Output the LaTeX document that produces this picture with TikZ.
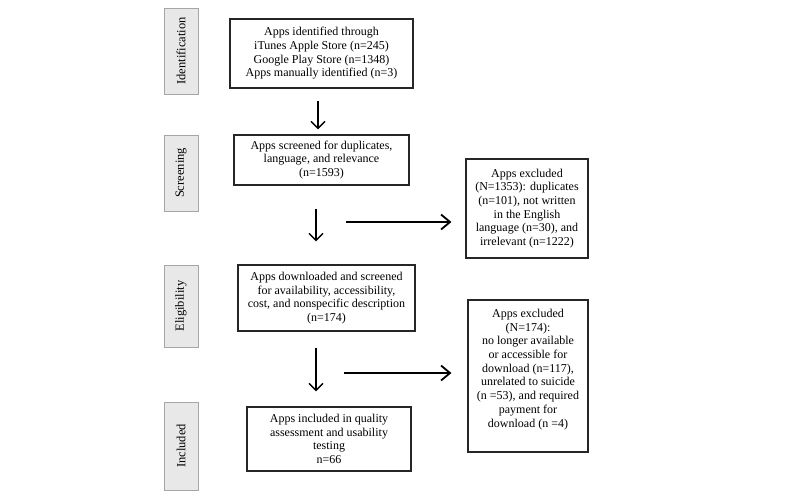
\documentclass[tikz,border=0pt]{standalone}
\usepackage{fontspec}
\setmainfont{Liberation Serif}
\usetikzlibrary{arrows.meta}
\begin{document}
\begin{tikzpicture}[x=1pt,y=-1pt,
  box/.style={draw=black!85,line width=1.1pt,align=center,inner sep=0pt,
    font=\fontsize{12}{13.7}\selectfont},
  side/.style={draw=black!35,fill=black!9,line width=0.8pt,inner sep=0pt,
    minimum width=34pt,font=\fontsize{12.5}{14}\selectfont},
  arr/.style={draw=black,line width=1.2pt,-{Straight Barb[length=7pt,width=14pt,line width=1.5pt]}},
  harr/.style={draw=black,line width=1.2pt,-{Straight Barb[length=9pt,width=15pt,line width=1.8pt]}}]
\useasboundingbox[fill=white] (0,0) rectangle (800,498);
% side labels
\node[side,minimum height=86pt] (sid) at (181,51) {\rotatebox{90}{Identification}};
\node[side,minimum height=76pt] (ssc) at (181,173) {\rotatebox{90}{Screening}};
\node[side,minimum height=82pt] (sel) at (181,306) {\rotatebox{90}{Eligibility}};
\node[side,minimum height=88pt] (sin) at (181,446) {\rotatebox{90}{Included}};
% main boxes
\node[box,minimum width=183pt,minimum height=69pt] (b1) at (321.5,53.5)
  {Apps identified through\\iTunes Apple Store (n=245)\\Google Play Store (n=1348)\\Apps manually identified (n=3)};
\node[box,minimum width=175pt,minimum height=50pt] (b2) at (321.5,160)
  {Apps screened for duplicates,\\language, and relevance\\(n=1593)};
\node[box,minimum width=177pt,minimum height=66pt] (b3) at (326.5,298)
  {Apps downloaded and screened\\for availability, accessibility,\\cost, and nonspecific description\\(n=174)};
\node[box,minimum width=164pt,minimum height=64pt] (b4) at (329,439)
  {Apps included in quality\\assessment and usability\\testing\\n=66};
\node[box,minimum width=122pt,minimum height=99pt] (e1) at (527,208.5)
  {Apps excluded\\(N=1353): duplicates\\(n=101), not written\\in the English\\language (n=30), and\\irrelevant (n=1222)};
\node[box,minimum width=120pt,minimum height=152pt] (e2) at (528,376)
  {Apps excluded\\(N=174):\\no longer available\\or accessible for\\download (n=117),\\unrelated to suicide\\(n =53), and required\\payment for\\download (n =4)\\[-2pt]\strut};
% vertical arrows
\draw[arr,shorten <=12pt,shorten >=5pt] ([xshift=-3.5pt]b1.south) -- ([xshift=-3.5pt]b1.south |- b2.north);
\draw[arr,shorten <=23pt,shorten >=23pt] ([xshift=-5.5pt]b2.south) -- ([xshift=-5.5pt]b2.south |- b3.north);
\draw[arr,shorten <=16pt,shorten >=15pt] ([xshift=-10.5pt]b3.south) -- ([xshift=-10.5pt]b3.south |- b4.north);
% horizontal arrows
\coordinate (h1) at (346,222);
\coordinate (h2) at (344,373);
\draw[harr,shorten >=14pt] (h1) -- (e1.west |- h1);
\draw[harr,shorten >=16pt] (h2) -- (e2.west |- h2);
\end{tikzpicture}
\end{document}
